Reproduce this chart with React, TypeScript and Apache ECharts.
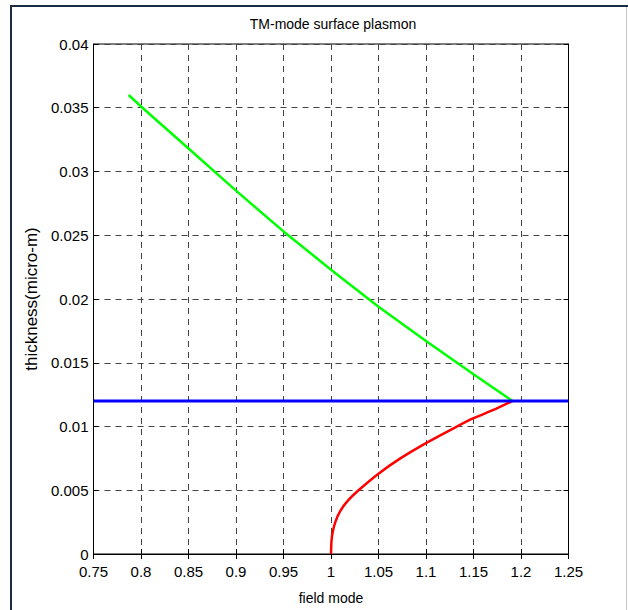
import React, { useEffect, useRef } from "react";
import * as echarts from "echarts";

const title = "TM-mode surface plasmon";
const xName = "field mode";
const yName = "thickness(micro-m)";

// green branch
const greenX = [0.787, 0.8, 0.85, 0.9, 0.95, 1.0, 1.05, 1.1, 1.15, 1.191];
const greenY = [0.036, 0.0351, 0.0318, 0.0285, 0.0253, 0.0223, 0.0194, 0.0167, 0.0141, 0.012];

// red branch
const redX = [1.0, 1.0005, 1.002, 1.005, 1.01, 1.018, 1.029, 1.05, 1.073, 1.1, 1.13, 1.15, 1.171, 1.191];
const redY = [0, 0.001, 0.0018, 0.0026, 0.0034, 0.0042, 0.005, 0.0063, 0.0075, 0.0087, 0.0099, 0.01065, 0.0113, 0.012];

// blue horizontal line
const blueX = [0.75, 1.25];
const blueY = [0.012, 0.012];

const xMin = 0.75, xMax = 1.25, xStep = 0.05;
const yMin = 0, yMax = 0.04, yStep = 0.005;

const FONT = "'Liberation Sans', Arial, sans-serif";

const zip = (xs: number[], ys: number[]) => xs.map((x, i) => [x, ys[i]]);
const fmt = (v: number) => String(Number(v.toFixed(4)));

export default function App() {
  const ref = useRef<HTMLDivElement>(null);
  useEffect(() => {
    if (!ref.current) return;
    const chart = echarts.init(ref.current, null, { renderer: "svg" });
    const gridLine = { show: true, lineStyle: { color: "#444", type: [6, 5] as any, width: 1 } };
    chart.setOption({
      animation: false,
      backgroundColor: "#fff",
      title: {
        text: title,
        left: 328,
        textAlign: "center",
        top: 12,
        textStyle: { fontFamily: FONT, fontSize: 14, fontWeight: "normal", color: "#000" },
      },
      grid: { left: 93.5, right: 59.5, top: 44, bottom: 53, show: true, borderColor: "#000", borderWidth: 1 },
      xAxis: [
        {
          type: "value", min: xMin, max: xMax, interval: xStep,
          name: xName, nameLocation: "middle", nameGap: 37,
          nameTextStyle: { fontFamily: FONT, fontSize: 14, color: "#000" },
          axisLine: { show: true, lineStyle: { color: "#000" } },
          axisTick: { show: true, inside: true, length: 5, lineStyle: { color: "#000" } },
          axisLabel: { fontFamily: FONT, fontSize: 15, color: "#000", margin: 10, formatter: fmt },
          splitLine: gridLine,
        },
        {
          type: "value", min: xMin, max: xMax, interval: xStep, position: "top",
          axisLine: { show: true, lineStyle: { color: "#000" } },
          axisTick: { show: true, inside: true, length: 5, lineStyle: { color: "#000" } },
          axisLabel: { show: false },
          splitLine: { show: false },
        },
      ],
      yAxis: [
        {
          type: "value", min: yMin, max: yMax, interval: yStep,
          name: yName, nameLocation: "middle", nameGap: 42,
          nameTextStyle: { fontFamily: FONT, fontSize: 17, color: "#000" },
          axisLine: { show: true, lineStyle: { color: "#000" } },
          axisTick: { show: true, inside: true, length: 5, lineStyle: { color: "#000" } },
          axisLabel: { fontFamily: FONT, fontSize: 15, color: "#000", margin: 5, formatter: fmt },
          splitLine: gridLine,
        },
        {
          type: "value", min: yMin, max: yMax, interval: yStep, position: "right",
          axisLine: { show: true, lineStyle: { color: "#000" } },
          axisTick: { show: true, inside: true, length: 5, lineStyle: { color: "#000" } },
          axisLabel: { show: false },
          splitLine: { show: false },
        },
      ],
      series: [
        {
          type: "line", data: zip(redX, redY), showSymbol: false, smooth: 0.2,
          lineStyle: { color: "#ff0000", width: 2.5 }, z: 3,
        },
        {
          type: "line", data: zip(greenX, greenY), showSymbol: false,
          lineStyle: { color: "#00ff00", width: 2.5 }, z: 3,
        },
        {
          type: "line", data: zip(blueX, blueY), showSymbol: false,
          lineStyle: { color: "#0000ff", width: 3 }, z: 4,
        },
      ],
      graphic: [
        { type: "line", shape: { x1: 10, y1: 6, x2: 628, y2: 6 }, style: { stroke: "#1c2a44", lineWidth: 2 } },
        { type: "line", shape: { x1: 11, y1: 5, x2: 11, y2: 610 }, style: { stroke: "#1c2a44", lineWidth: 2 } },
        { type: "line", shape: { x1: 626.5, y1: 7, x2: 626.5, y2: 610 }, style: { stroke: "#c8c8c8", lineWidth: 1 } },
      ],
    });
    return () => chart.dispose();
  }, []);
  return <div ref={ref} style={{ width: 628, height: 610, position: "absolute", left: 0, top: 0 }} />;
}
